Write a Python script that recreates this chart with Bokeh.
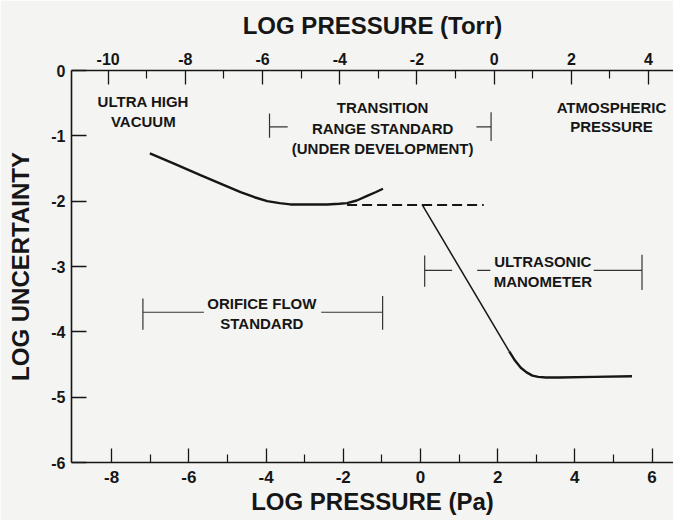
from bokeh.plotting import figure
from bokeh.models import Range1d, LinearAxis, FixedTicker
from bokeh.embed import file_html
from bokeh.resources import INLINE
from bokeh.core.properties import value

# ---------------- data (log Pa, log uncertainty) ----------------
orifice_x = [-7.01, -6.40, -5.70, -5.15, -4.66, -4.30, -3.97, -3.65, -3.37, -2.90, -2.42, -2.10, -1.90, -1.65, -1.38, -1.15, -0.97]
orifice_y = [-1.27, -1.42, -1.60, -1.74, -1.86, -1.94, -2.00, -2.03, -2.05, -2.05, -2.05, -2.04, -2.03, -1.99, -1.92, -1.86, -1.81]

dashed_x = [-1.90, 1.64]
dashed_y = [-2.06, -2.06]

ultra_steep_x = [0.04, 2.30]
ultra_steep_y = [-2.05, -4.30]
ultra_flat_x = [2.30, 2.45, 2.60, 2.75, 2.90, 3.05, 3.25, 3.60, 4.50, 5.48]
ultra_flat_y = [-4.30, -4.44, -4.55, -4.62, -4.67, -4.69, -4.70, -4.70, -4.69, -4.68]

# range brackets: caps (x, y bottom, y top) and arms (x0, x1, y)
cap_x = [-3.91, 1.83, 0.11, 5.74, -7.19, -0.98]
cap_y0 = [-1.03, -1.08, -3.31, -3.36, -3.97, -3.97]
cap_y1 = [-0.66, -0.64, -2.83, -2.82, -3.49, -3.45]
arm_x0 = [-3.91, 1.45, 0.11, 1.47, 4.49, -7.19, -2.57]
arm_x1 = [-3.44, 1.83, 0.82, 1.81, 5.74, -5.61, -0.98]
arm_y = [-0.862, -0.862, -3.06, -3.06, -3.06, -3.70, -3.70]

label_text = ["ULTRA HIGH", "VACUUM",
              "TRANSITION", "RANGE STANDARD", "(UNDER DEVELOPMENT)",
              "ATMOSPHERIC", "PRESSURE",
              "ULTRASONIC", "MANOMETER",
              "ORIFICE FLOW", "STANDARD"]
label_x = [-7.18, -7.18, -0.98, -0.98, -0.98, 4.95, 4.95, 3.17, 3.17, -4.11, -4.11]
label_y = [-0.48, -0.785, -0.571, -0.888, -1.194, -0.571, -0.862, -2.93, -3.23, -3.57, -3.87]

pa_ticks = [-8, -6, -4, -2, 0, 2, 4, 6]
pa_minor = [-7, -5, -3, -1, 1, 3, 5]
torr_ticks = [-10, -8, -6, -4, -2, 0, 2, 4]
torr_minor = [-9, -7, -5, -3, -1, 1, 3]
unc_ticks = [-6, -5, -4, -3, -2, -1, 0]
torr_offset = 1.91   # log Pa - log Torr as drawn

FONT = "Liberation Sans"
INK = "#161616"
BG = "#f4f4f2"

x_lo, x_hi = -9.04, 6.556
p = figure(width=673, height=520, output_backend="svg", toolbar_location=None,
           x_range=Range1d(x_lo, x_hi), y_range=Range1d(-6, 0),
           min_border_left=71, min_border_right=0, min_border_top=70, min_border_bottom=58)
p.extra_x_ranges = {"torr": Range1d(x_lo - torr_offset, x_hi - torr_offset)}
p.grid.visible = False
p.outline_line_color = None
p.background_fill_color = BG
p.border_fill_color = BG

top = LinearAxis(x_range_name="torr")
p.add_layout(top, "above")
bottom = p.below[0]
left = p.left[0]


def style(ax, ticks, minor, label, lab_size, lab_stand, title_stand):
    ax.ticker = FixedTicker(ticks=ticks, minor_ticks=minor)
    ax.major_label_overrides = {t: str(t) for t in ticks}
    ax.axis_label = label
    ax.axis_label_text_font = FONT
    ax.axis_label_text_font_style = "bold"
    ax.axis_label_text_font_size = "24px"
    ax.axis_label_text_color = INK
    ax.axis_label_standoff = title_stand
    ax.major_label_text_font = FONT
    ax.major_label_text_font_style = "bold"
    ax.major_label_text_font_size = lab_size
    ax.major_label_text_color = INK
    ax.major_label_standoff = lab_stand
    ax.axis_line_color = INK
    ax.axis_line_width = 1.6
    ax.major_tick_line_color = INK
    ax.major_tick_line_width = 1.3
    ax.major_tick_in = 14
    ax.major_tick_out = 0
    ax.minor_tick_line_color = INK
    ax.minor_tick_line_width = 1.2
    ax.minor_tick_in = 8
    ax.minor_tick_out = 0


style(bottom, pa_ticks, pa_minor, "LOG PRESSURE (Pa)", "17px", 8, 2)
style(top, torr_ticks, torr_minor, "LOG PRESSURE (Torr)", "16px", 6, 11)
style(left, unc_ticks, [], "LOG UNCERTAINTY", "16px", 6, 14)
left.major_tick_in = 15

# curves
p.line(orifice_x, orifice_y, line_color=INK, line_width=2.4, line_join="round")
p.line(dashed_x, dashed_y, line_color=INK, line_width=2.0, line_dash="10 5")
p.line(ultra_steep_x, ultra_steep_y, line_color=INK, line_width=1.5)
p.line(ultra_flat_x, ultra_flat_y, line_color=INK, line_width=2.4, line_join="round")

# brackets
p.segment(x0=cap_x, y0=cap_y0, x1=cap_x, y1=cap_y1, line_color="#333333", line_width=1.2)
p.segment(x0=arm_x0, y0=arm_y, x1=arm_x1, y1=arm_y, line_color="#333333", line_width=1.2)

# annotations
p.text(x=label_x, y=label_y, text=label_text, text_font=value(FONT),
       text_font_style="bold", text_font_size="15px", text_color=INK,
       text_align="center", text_baseline="middle")

open("out.html", "w").write(file_html(p, INLINE))
